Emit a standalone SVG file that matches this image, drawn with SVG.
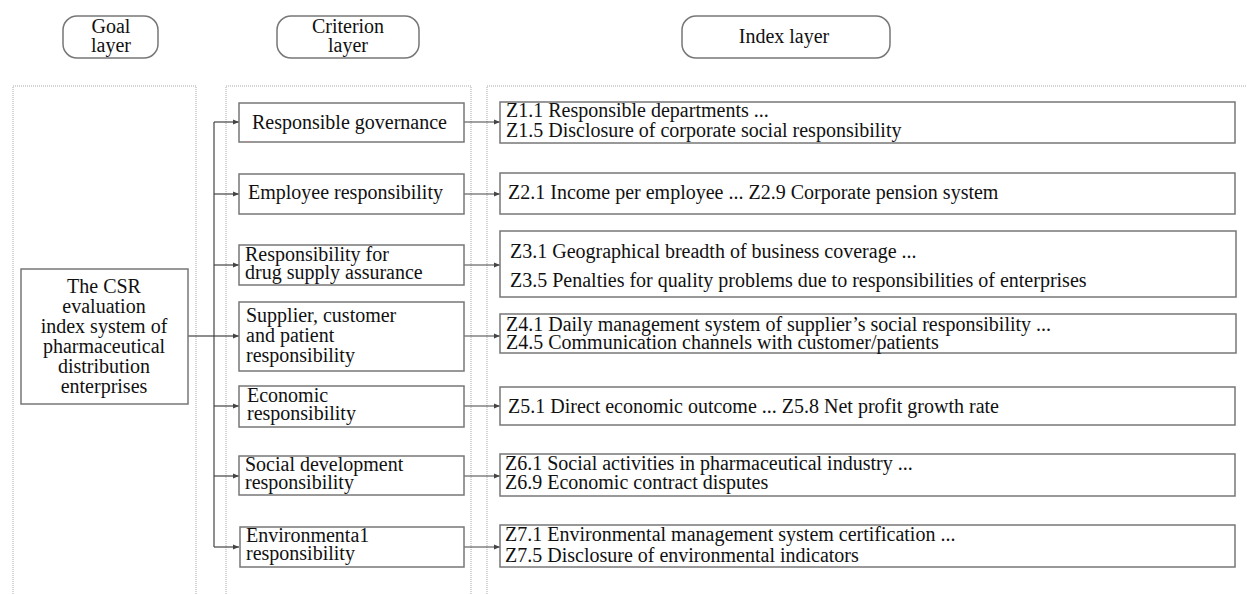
<svg xmlns="http://www.w3.org/2000/svg" width="1247" height="594" viewBox="0 0 1247 594">
  <style>
    text { font-family: "Liberation Serif", "Times New Roman", "DejaVu Serif", serif; font-size: 20px; fill: #111; }
    .mid { text-anchor: middle; }
    .pill { fill: #fff; stroke: #777; stroke-width: 1.5; }
    .panel { fill: none; stroke: #aaa; stroke-width: 1; stroke-dasharray: 1 1; }
    .box { fill: #fff; stroke: #777; stroke-width: 1.5; }
    .link { fill: none; stroke: #444; stroke-width: 1.2; }
  </style>
  <defs>
    <marker id="arrow" viewBox="0 0 10 10" refX="10" refY="5" markerWidth="6" markerHeight="6" markerUnits="userSpaceOnUse" orient="auto">
      <path d="M0,1 L10,5 L0,9 Z" fill="#444"/>
    </marker>
  </defs>

  <rect width="1247" height="594" fill="#fff"/>

  <!-- layer headers -->
  <g id="header-goal">
    <rect class="pill" x="63" y="16" width="95" height="42" rx="14"/>
    <text class="mid" x="111" y="33">Goal</text>
    <text class="mid" x="111" y="52">layer</text>
  </g>
  <g id="header-criterion">
    <rect class="pill" x="277" y="16" width="142" height="42" rx="14"/>
    <text class="mid" x="348" y="33">Criterion</text>
    <text class="mid" x="348" y="52">layer</text>
  </g>
  <g id="header-index">
    <rect class="pill" x="682" y="16" width="208" height="42" rx="14"/>
    <text class="mid" x="784" y="43">Index layer</text>
  </g>

  <!-- dotted layer panels -->
  <g id="panels">
    <path class="panel" d="M13,594 V86 H196 V594"/>
    <path class="panel" d="M226,594 V86 H471 V594"/>
    <path class="panel" d="M487,594 V86 H1246"/>
  </g>

  <!-- connectors -->
  <g id="connectors">
    <path class="link" d="M188,336 H214"/>
    <path class="link" d="M214,122 V547"/>
    <path class="link" d="M214,122 H239" marker-end="url(#arrow)"/>
    <path class="link" d="M214,194 H239" marker-end="url(#arrow)"/>
    <path class="link" d="M214,265 H239" marker-end="url(#arrow)"/>
    <path class="link" d="M214,336 H239" marker-end="url(#arrow)"/>
    <path class="link" d="M214,406 H239" marker-end="url(#arrow)"/>
    <path class="link" d="M214,476 H239" marker-end="url(#arrow)"/>
    <path class="link" d="M214,547 H239" marker-end="url(#arrow)"/>
    <path class="link" d="M464,122 H500" marker-end="url(#arrow)"/>
    <path class="link" d="M464,194 H500" marker-end="url(#arrow)"/>
    <path class="link" d="M464,265 H500" marker-end="url(#arrow)"/>
    <path class="link" d="M464,336 H500" marker-end="url(#arrow)"/>
    <path class="link" d="M464,406 H500" marker-end="url(#arrow)"/>
    <path class="link" d="M464,476 H500" marker-end="url(#arrow)"/>
    <path class="link" d="M464,547 H500" marker-end="url(#arrow)"/>
  </g>

  <!-- goal layer -->
  <g id="goal">
    <rect class="box" x="21" y="269" width="167" height="135"/>
    <text class="mid" x="104" y="293">The CSR</text>
    <text class="mid" x="104" y="313">evaluation</text>
    <text class="mid" x="104" y="333">index system of</text>
    <text class="mid" x="104" y="353">pharmaceutical</text>
    <text class="mid" x="104" y="373">distribution</text>
    <text class="mid" x="104" y="393">enterprises</text>
  </g>

  <!-- criterion layer -->
  <g id="c1">
    <rect class="box" x="239" y="103" width="225" height="39"/>
    <text x="252" y="129">Responsible governance</text>
    <path d="M247,141.5 H251" stroke="#b88" stroke-width="1"/>
  </g>
  <g id="c2">
    <rect class="box" x="239" y="174" width="225" height="40"/>
    <text x="248" y="199">Employee responsibility</text>
  </g>
  <g id="c3">
    <rect class="box" x="239" y="245" width="225" height="40"/>
    <text x="245" y="261">Responsibility for</text>
    <text x="245" y="279">drug supply assurance</text>
  </g>
  <g id="c4">
    <rect class="box" x="239" y="302" width="225" height="69"/>
    <text x="246" y="322">Supplier, customer</text>
    <text x="246" y="342">and patient</text>
    <text x="246" y="362">responsibility</text>
  </g>
  <g id="c5">
    <rect class="box" x="239" y="386" width="225" height="41"/>
    <text x="247" y="402">Economic</text>
    <text x="247" y="420">responsibility</text>
  </g>
  <g id="c6">
    <rect class="box" x="239" y="456" width="225" height="39"/>
    <text x="245" y="471">Social development</text>
    <text x="245" y="489">responsibility</text>
  </g>
  <g id="c7">
    <rect class="box" x="240" y="527" width="224" height="40"/>
    <text x="246" y="542">Environmenta1</text>
    <text x="246" y="560">responsibility</text>
  </g>

  <!-- index layer -->
  <g id="z1">
    <rect class="box" x="500" y="102" width="735" height="41"/>
    <text x="506" y="117">Z1.1 Responsible departments ...</text>
    <text x="506" y="137">Z1.5 Disclosure of corporate social responsibility</text>
  </g>
  <g id="z2">
    <rect class="box" x="500" y="173" width="735" height="41"/>
    <text x="508" y="199">Z2.1 Income per employee ... Z2.9 Corporate pension system</text>
  </g>
  <g id="z3">
    <rect class="box" x="500" y="231" width="736" height="66"/>
    <text x="510" y="258">Z3.1 Geographical breadth of business coverage ...</text>
    <text x="510" y="287">Z3.5 Penalties for quality problems due to responsibilities of enterprises</text>
  </g>
  <g id="z4">
    <rect class="box" x="500" y="314" width="736" height="39"/>
    <text x="506" y="331">Z4.1 Daily management system of supplier’s social responsibility ...</text>
    <text x="506" y="349">Z4.5 Communication channels with customer/patients</text>
  </g>
  <g id="z5">
    <rect class="box" x="500" y="387" width="735" height="38"/>
    <text x="508" y="413">Z5.1 Direct economic outcome ... Z5.8 Net profit growth rate</text>
  </g>
  <g id="z6">
    <rect class="box" x="500" y="454" width="735" height="42"/>
    <text x="505" y="470">Z6.1 Social activities in pharmaceutical industry ...</text>
    <text x="505" y="489">Z6.9 Economic contract disputes</text>
  </g>
  <g id="z7">
    <rect class="box" x="500" y="525" width="735" height="42"/>
    <text x="505" y="541">Z7.1 Environmental management system certification ...</text>
    <text x="505" y="562">Z7.5 Disclosure of environmental indicators</text>
  </g>
</svg>
